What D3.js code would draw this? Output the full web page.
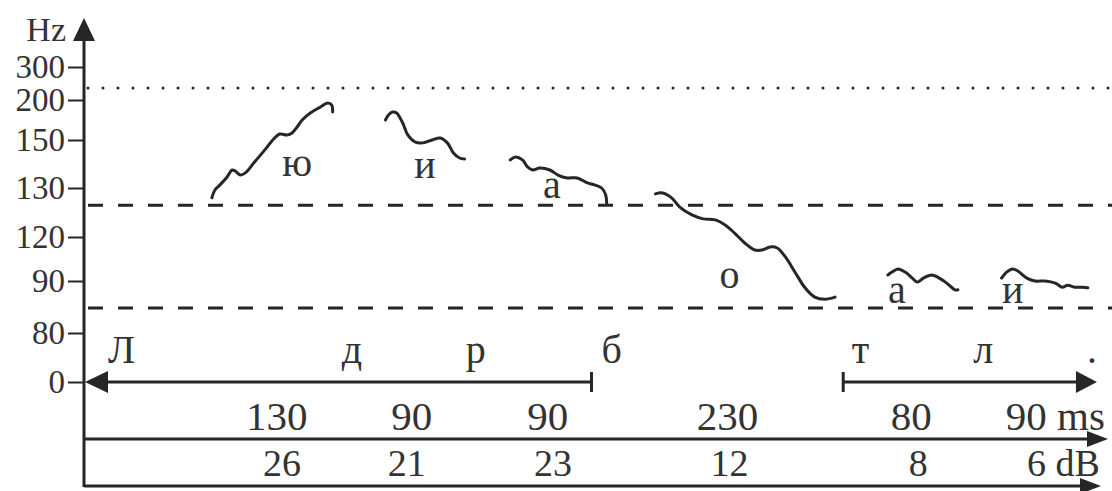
<!DOCTYPE html>
<html>
<head>
<meta charset="utf-8">
<script src="https://cdn.jsdelivr.net/npm/d3@7"></script>
<style>
  body { margin: 0; background: #fff; }
  svg text { font-family: "Liberation Serif", "DejaVu Serif", serif; fill: #333; }
</style>
</head>
<body>
<svg id="chart" width="1112" height="491"></svg>
<script>
// y ticks (Hz) as printed on the axis
var hzTicks = [0, 80, 90, 120, 130, 150, 200, 300];

// reference levels (Hz)
var topLevel = 236;
var rangeLevels = [126.5, 84.8];

// F0 contours: [time %, Hz]
var contourJu = [[12.5,128.0],[12.8,129.6],[13.3,131.3],[14.0,134.6],[14.5,137.5],[14.8,137.1],[15.3,135.4],[15.8,136.3],[16.7,140.8],[17.7,145.8],[18.5,150.0],[19.2,157.5],[19.9,156.3],[20.4,158.8],[20.9,166.3],[21.4,175.0],[22.2,183.8],[23.2,191.3],[23.9,196.3],[24.3,193.8],[24.4,185.0]];
var contourI1 = [[29.6,175.0],[29.9,181.3],[30.3,185.0],[30.7,183.8],[31.3,171.3],[31.8,156.3],[32.5,149.2],[33.3,148.8],[34.2,150.0],[35.0,152.5],[35.7,148.8],[36.3,144.6],[36.9,142.5],[37.4,142.1]];
var contourA1 = [[41.9,141.7],[42.4,142.9],[43.1,141.7],[43.6,138.8],[44.1,137.5],[44.8,138.3],[45.8,137.5],[46.6,135.4],[47.5,134.2],[48.5,134.2],[49.5,132.1],[50.2,131.3],[50.9,130.0],[51.3,128.6],[51.4,126.9]];
var contourO = [[56.2,128.8],[56.9,129.0],[57.8,128.0],[58.6,126.1],[59.8,124.5],[60.9,123.7],[62.1,123.5],[63.1,122.4],[64.0,120.8],[65.0,115.9],[66.0,111.1],[66.7,111.1],[67.5,113.2],[68.2,112.5],[69.0,106.4],[70.0,95.5],[70.9,88.8],[71.9,86.9],[72.9,86.5],[73.9,86.9]];
var contourA2 = [[79.1,94.1],[79.5,96.1],[80.1,98.2],[80.8,96.1],[81.5,92.0],[82.0,89.8],[82.6,92.0],[83.4,94.1],[84.0,92.7],[84.9,89.6],[85.7,88.3],[86.0,88.3]];
var contourI2 = [[90.3,92.0],[90.8,96.1],[91.4,98.2],[91.9,96.8],[92.8,92.0],[93.6,90.0],[94.6,90.0],[95.6,89.6],[96.3,88.8],[96.8,89.2],[97.5,88.8],[98.3,88.8],[98.8,88.7]];
var contours = [contourJu, contourI1, contourA1, contourO, contourA2, contourI2];

// vowel labels: [text, time %, Hz of baseline]
var vowels = [['ю',20.9,135.0],['и',33.5,134.2],['а',46.0,128.0],['о',63.5,88.7],['а',80.0,85.8],['и',91.4,85.8]];

// consonants on the time line
var consonants = ['Л', 'д', 'р', 'б', 'т', 'л', '.'];
var consonantTimes = [3.6, 26.3, 38.5, 51.9, 76.4, 88.5, 99.2];
var consonantSpans = [[0, 49.9], [74.7, 99.7]];

// durations and intensities
var durations = [130, 90, 90, 230, 80, 90];
var durationTimes = [18.9, 32.2, 45.6, 63.3, 81.4, 95.6];
var intensities = [26, 21, 23, 12, 8, 6];
var intensityTimes = [19.4, 31.7, 46.1, 63.5, 82.1, 96.4];

var width = 1112, height = 491;
var margin = {top: 18, left: 84, right: 12};
var ink = '#262626';

var svg = d3.select('#chart');

var x = d3.scaleLinear().domain([0, 100]).range([85, 1100]);
var y = d3.scaleLinear()
    .domain(hzTicks)
    .range([382, 333, 281, 237, 188, 140, 100, 67]);

function tri(pts) { return 'M' + pts.map(p => p.join(',')).join('L') + 'Z'; }

// y axis
var yAxis = d3.axisLeft(y).tickValues(hzTicks).tickSize(16).tickPadding(3);
var gy = svg.append('g')
    .attr('transform', 'translate(' + [margin.left, 0] + ')')
    .call(yAxis);
gy.select('.domain').remove();
gy.selectAll('.tick line').attr('stroke', ink).attr('stroke-width', 2);
gy.selectAll('.tick text')
    .attr('font-size', 33)
    .attr('font-family', '"Liberation Serif", serif')
    .attr('fill', '#333');

svg.append('line')
    .attr('x1', margin.left).attr('x2', margin.left)
    .attr('y1', 38).attr('y2', 487)
    .attr('stroke', ink).attr('stroke-width', 3);
svg.append('path')
    .attr('d', tri([[margin.left, margin.top], [margin.left - 11, 41], [margin.left + 11, 41]]))
    .attr('fill', ink);
svg.append('text')
    .attr('x', 66).attr('y', 41)
    .attr('text-anchor', 'end')
    .attr('font-size', 34)
    .text('Hz');

// reference levels
svg.append('line')
    .attr('x1', 88).attr('x2', width)
    .attr('y1', y(topLevel)).attr('y2', y(topLevel))
    .attr('stroke', ink).attr('stroke-width', 3)
    .attr('stroke-linecap', 'round')
    .attr('stroke-dasharray', '0,15');
svg.selectAll('.range-level')
    .data(rangeLevels)
    .enter().append('line')
    .attr('class', 'range-level')
    .attr('x1', 88).attr('x2', width)
    .attr('y1', d => y(d)).attr('y2', d => y(d))
    .attr('stroke', ink).attr('stroke-width', 3)
    .attr('stroke-dasharray', '15,15');

// contours
var line = d3.line()
    .x(d => x(d[0]))
    .y(d => y(d[1]))
    .curve(d3.curveCatmullRom.alpha(0.5));
svg.selectAll('.contour')
    .data(contours)
    .enter().append('path')
    .attr('class', 'contour')
    .attr('d', line)
    .attr('fill', 'none')
    .attr('stroke', ink)
    .attr('stroke-width', 3)
    .attr('stroke-linecap', 'round')
    .attr('stroke-linejoin', 'round');

svg.selectAll('.vowel')
    .data(vowels)
    .enter().append('text')
    .attr('class', 'vowel')
    .attr('x', d => x(d[1]))
    .attr('y', d => y(d[2]))
    .attr('text-anchor', 'middle')
    .attr('font-size', 40)
    .text(d => d[0]);

// consonant row
svg.selectAll('.cons')
    .data(consonants)
    .enter().append('text')
    .attr('class', 'cons')
    .attr('x', (d, i) => x(consonantTimes[i]))
    .attr('y', 363)
    .attr('text-anchor', 'middle')
    .attr('font-size', 40)
    .text(d => d);

var rowY = y(0);
// left span: arrow pointing to the axis, bar at end
var s0 = consonantSpans[0], s1 = consonantSpans[1];
svg.append('line')
    .attr('x1', x(s0[0]) + 10).attr('x2', x(s0[1]))
    .attr('y1', rowY).attr('y2', rowY)
    .attr('stroke', ink).attr('stroke-width', 3);
svg.append('path')
    .attr('d', tri([[x(s0[0]), rowY], [x(s0[0]) + 23, rowY - 11], [x(s0[0]) + 23, rowY + 11]]))
    .attr('fill', ink);
svg.append('line')
    .attr('x1', x(s0[1])).attr('x2', x(s0[1]))
    .attr('y1', rowY - 10).attr('y2', rowY + 10)
    .attr('stroke', ink).attr('stroke-width', 3);
// right span
svg.append('line')
    .attr('x1', x(s1[0])).attr('x2', x(s1[1]) - 10)
    .attr('y1', rowY).attr('y2', rowY)
    .attr('stroke', ink).attr('stroke-width', 3);
svg.append('line')
    .attr('x1', x(s1[0])).attr('x2', x(s1[0]))
    .attr('y1', rowY - 10).attr('y2', rowY + 10)
    .attr('stroke', ink).attr('stroke-width', 3);
svg.append('path')
    .attr('d', tri([[x(s1[1]), rowY], [x(s1[1]) - 21, rowY - 11], [x(s1[1]) - 21, rowY + 11]]))
    .attr('fill', ink);

// ms and dB rows
var msY = 439, dbY = 486;
svg.selectAll('.ms')
    .data(durations)
    .enter().append('text')
    .attr('class', 'ms')
    .attr('x', (d, i) => x(durationTimes[i]))
    .attr('y', 430)
    .attr('text-anchor', 'middle')
    .attr('font-size', 41)
    .text((d, i) => i === durations.length - 1 ? d + ' ms' : d);
svg.selectAll('.db')
    .data(intensities)
    .enter().append('text')
    .attr('class', 'db')
    .attr('x', (d, i) => x(intensityTimes[i]))
    .attr('y', 476)
    .attr('text-anchor', 'middle')
    .attr('font-size', 38)
    .text((d, i) => i === intensities.length - 1 ? d + ' dB' : d);

[[msY, 1108], [dbY, 1101]].forEach(function(r) {
    svg.append('line')
        .attr('x1', margin.left).attr('x2', r[1] - 12)
        .attr('y1', r[0]).attr('y2', r[0])
        .attr('stroke', ink).attr('stroke-width', 3);
    svg.append('path')
        .attr('d', tri([[r[1], r[0]], [r[1] - 21, r[0] - 8], [r[1] - 21, r[0] + 8]]))
        .attr('fill', ink);
});
</script>
</body>
</html>
